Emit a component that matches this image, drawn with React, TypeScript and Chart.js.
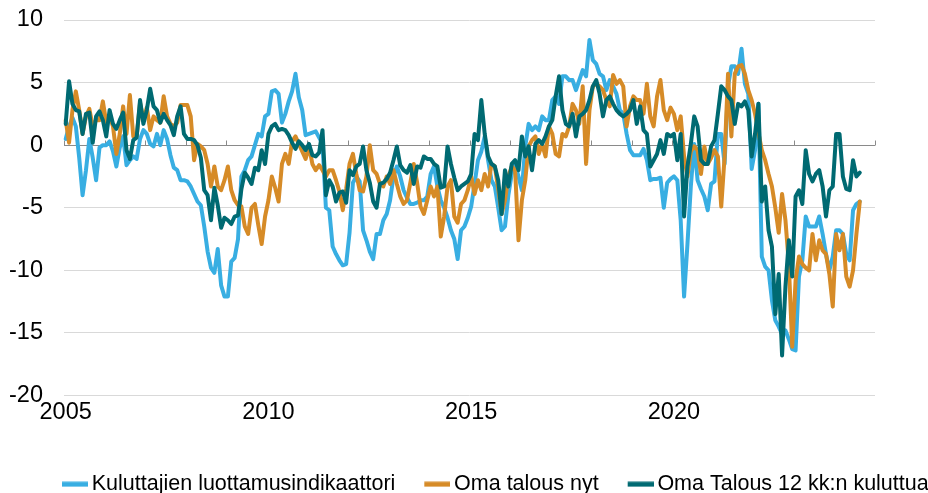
import React, { useEffect, useRef } from 'react';
import { Chart, registerables } from 'chart.js';

Chart.register(...registerables);

// ---- Data (monthly, Jan 2005 onwards) ----
const START_YEAR = 2005;
const END_YEAR = 2024;
const MONTHS: string[] = [];
for (let y = START_YEAR; y <= END_YEAR; y++) {
  for (let m = 1; m <= 12; m++) MONTHS.push(`${y}-${String(m).padStart(2, '0')}`);
}
const YEAR_LABELS = ['2005', '2010', '2015', '2020'];

const SERIES_NAMES = [
  'Kuluttajien luottamusindikaattori',
  'Oma talous nyt',
  'Oma Talous 12 kk:n kuluttua',
];

const luottamus = [
  0.5, 1.5, 2.2, 1.5, -1.0, -4.0, -2.0, 0.5, -1.0, -2.8, -0.2, 0.0,
  0.0, 0.3, -0.5, -1.7, -0.2, 0.7, -1.6, -1.2, -0.9, -1.1, 0.5, 1.2,
  0.9, 0.1, -0.1, 0.9, 0.0, 1.2, 0.5, -0.8, -1.8, -2.0, -2.8, -2.8,
  -2.9, -3.3, -3.9, -4.5, -4.8, -6.5, -8.5, -9.8, -10.2, -8.3, -11.2, -12.1,
  -12.1, -9.3, -9.0, -7.5, -2.5, -2.0, -1.2, -0.9, 0.0, 0.9, 0.7, 2.3,
  2.5, 4.3, 4.4, 4.1, 1.8, 2.5, 3.5, 4.3, 5.7, 3.8, 2.8, 0.8,
  0.9, 1.0, 1.1, 0.6, 0.1, -5.0, -5.2, -8.1, -8.7, -9.2, -9.6, -9.5,
  -7.0, -3.0, -2.5, -2.9, -6.8, -7.6, -8.5, -9.1, -7.1, -7.1, -6.0, -5.5,
  -4.4, -2.5, -1.7, -2.5, -3.6, -4.2, -4.7, -4.7, -4.6, -4.4, -4.4, -4.1,
  -2.3, -1.7, -3.3, -4.4, -5.0, -5.8, -6.8, -7.5, -9.1, -6.8, -6.5, -5.8,
  -4.9, -3.1, -1.2, -0.5, 0.7, -1.2, -2.8, -3.3, -5.0, -6.8, -6.5, -4.0,
  -2.3, -1.5, -2.5, -3.6, -0.1, 1.7, 1.2, 1.5, 1.2, 2.3, 2.0, 2.0,
  3.6, 3.9, 3.3, 5.5, 5.5, 5.2, 5.2, 4.4, 5.2, 6.0, 5.5, 8.4,
  6.8, 6.5, 5.7, 5.5, 4.4, 5.2, 4.7, 4.1, 2.8, 2.5, 0.9, -0.4,
  -0.8, -0.8, -0.8, -0.3, -1.2, -2.8, -2.7, -2.7, -2.6, -5.0, -3.0, -2.7,
  -2.5, -2.8, -6.0, -12.1, -7.9, -3.3, 0.1, -2.8, -3.5, -4.1, -5.2, -3.1,
  -2.9, 0.9, 0.9, -1.5, 4.7, 6.3, 6.3, 5.7, 7.7, 4.9, 4.1, -1.9,
  -0.4, 3.3, -8.9, -9.7, -10.0, -12.4, -14.0, -14.5, -15.1, -14.8, -15.5, -16.3,
  -16.4, -10.5, -9.2, -5.7, -6.5, -6.5, -6.5, -5.7, -7.1, -8.7, -10.0, -8.9,
  -6.8, -6.8, -7.1, -8.7, -9.2, -5.2, -4.7, -4.5,
];

const omaNyt = [
  2.0, 0.2, 2.8, 4.3, 2.8, 0.9, 2.3, 2.9, 1.5, 2.0, 2.0, 3.5,
  1.8, 2.3, 1.5, -0.7, 0.9, 3.1, 0.9, 4.0, 0.7, 0.7, 3.4, 2.0,
  3.0, 1.2, 2.3, 2.0, 1.8, 3.9, 2.3, 1.7, 1.5, 1.8, 3.2, 3.2,
  3.2, 2.3, -1.2, 0.1, -0.1, -0.4, -1.5, -3.3, -1.7, -3.3, -3.6, -2.8,
  -1.7, -3.6, -4.4, -4.8, -4.9, -6.5, -7.1, -5.0, -4.7, -6.4, -7.9, -5.7,
  -4.4, -2.5, -3.4, -4.5, -1.5, -0.7, -1.5, 0.3, 0.7, 0.1, -0.5, -1.1,
  -0.1, -1.5, -2.0, -1.6, -2.0, -2.5, -2.0, -2.0, -2.8, -3.7, -5.2, -3.5,
  -1.5, -0.7, -2.3, -3.6, -3.7, -2.5, 0.0, -2.0, -2.3, -3.1, -3.3, -2.5,
  -3.1, -2.0, -3.1, -4.1, -4.7, -4.4, -3.0, -1.5, -3.0, -4.9, -5.5, -4.4,
  -3.3, -4.1, -3.3, -7.3, -5.7, -3.3, -2.8, -5.7, -6.2, -4.7, -4.4, -3.6,
  -2.5, -3.9, -2.8, -3.6, -2.3, -3.3, -1.5, -1.7, -3.5, -5.5, -4.4, -2.5,
  -1.7, -2.0, -7.6, -4.4, -2.8, -0.1, 0.4, 0.7, -0.7, 0.1, -0.9, 1.5,
  0.9, -0.7, -0.9, 0.9, 0.7, 1.5, 3.3, 2.8, 1.7, 4.7, -1.5, 2.8,
  4.7, 4.9, 4.7, 4.4, 3.6, 3.1, 5.6, 4.9, 5.2, 4.7, 1.5, 3.1,
  3.9, 3.6, 3.6, 2.5, 4.9, 2.3, 1.5, 3.9, 5.2, 2.8, 2.0, 3.0,
  2.5, 1.2, 2.3, -0.9, -2.5, -0.5, -0.1, -0.4, -2.3, -0.1, -1.5, -1.0,
  -0.4, -0.9, -4.9, -0.9, 5.7, 0.7, 5.7, 6.3, 6.4, 5.7, 4.4, 3.6,
  2.5, 1.0, -0.4, -1.2, -2.3, -3.3, -5.0, -7.0, -3.9, -6.0, -9.5, -16.1,
  -10.8, -8.9, -9.5, -9.8, -10.0, -7.1, -9.2, -7.6, -8.4, -8.7, -10.3, -12.9,
  -7.1, -8.4, -7.1, -10.5, -11.3, -10.0, -7.1, -4.5,
];

const oma12kk = [
  1.7, 5.1, 3.3, 2.8, 2.7, 0.9, 2.5, 2.6, 0.2, 2.3, 2.7, 2.0,
  0.7, 2.8, 1.7, 1.3, 2.0, 2.6, -0.4, -1.1, 0.4, 0.6, 3.6, 1.7,
  2.8, 4.5, 3.1, 2.8, 1.8, 2.5, 2.0, 1.6, 0.8, 2.3, 3.1, 0.9,
  0.5, 0.5, 0.4, 0.0, -1.0, -3.6, -4.0, -6.0, -3.4, -4.8, -6.6, -5.8,
  -6.0, -6.3, -5.7, -5.6, -3.5, -2.2, -2.6, -3.1, -1.8, -2.0, -0.4, -1.5,
  0.9, 1.5, 1.7, 1.2, 1.3, 1.2, 0.8, 0.2, -0.3, 0.3, 0.0, -0.4,
  0.1, -0.8, -0.9, -0.6, 1.2, -4.0, -2.8, -3.3, -4.5, -3.8, -3.7, -4.6,
  -2.0, -2.4, -1.7, -1.5, -0.1, -2.0, -3.0, -4.5, -5.0, -3.1, -3.0, -2.7,
  -2.2, -1.2, -0.1, -1.6, -2.0, -2.2, -1.6, -3.1, -1.7, -1.8, -0.9, -1.1,
  -1.1, -1.5, -1.7, -3.4, -3.3, -0.1, -1.5, -2.6, -3.6, -3.3, -3.1, -2.9,
  -2.3, 0.9, 0.4, 3.6, 0.9, -0.9, -1.5, -1.7, -2.8, -5.5, -2.0, -3.3,
  -1.5, -1.2, -2.0, 0.7, -0.9, -0.1, -2.0, 0.1, 0.4, 0.1, 0.7, 1.5,
  2.0, 3.9, 5.5, 2.8, 1.7, 1.5, 2.5, 0.7, 2.3, 2.5, 2.8, 3.6,
  4.7, 5.2, 4.1, 2.3, 3.6, 3.9, 3.3, 2.8, 2.5, 2.3, 2.5, 2.8,
  3.6, 1.7, 3.1, 1.2, 0.9, -1.7, -1.2, -0.7, 0.4, -0.7, 0.9, 0.7,
  0.9, -1.2, 0.9, -5.7, -1.7, 0.1, 2.3, 1.5, -1.2, -1.5, -1.5, -0.1,
  0.4, 2.5, 4.7, 4.4, 3.9, 3.6, 1.7, 3.3, 3.1, 3.5, 2.8, -0.9,
  0.9, 3.3, -4.5, -3.3, -6.8, -8.1, -13.5, -10.3, -16.8, -11.3, -7.6, -10.5,
  -4.1, -3.6, -4.7, -0.4, -2.3, -2.9, -2.3, -2.0, -3.3, -5.7, -3.6, -3.3,
  0.9, 0.9, -2.5, -3.5, -3.6, -1.2, -2.5, -2.2,
];

const COLORS = ['#38AEE2', '#D68B27', '#006A72'];
const FONT_FAMILY = '"Liberation Sans", Arial, Helvetica, sans-serif';
const TICK_FONT_SIZE = 23.5;

export default function App() {
  const ref = useRef<HTMLCanvasElement>(null);

  useEffect(() => {
    const canvas = ref.current;
    if (!canvas) return;

    const markers = COLORS.map((c) => {
      const m = document.createElement('canvas');
      m.width = 40;
      m.height = 6;
      const g = m.getContext('2d')!;
      g.strokeStyle = c;
      g.lineWidth = 5;
      g.beginPath();
      g.moveTo(14, 3);
      g.lineTo(40, 3);
      g.stroke();
      return m;
    });

    const yearTicks = {
      id: 'yearTicks',
      afterLayout(chart: any) {
        // shift the legend row to the right, as in the reference
        if (chart.legend) chart.legend.left = 33;
      },
      beforeDatasetsDraw(chart: any) {
        const { ctx, chartArea, scales } = chart;
        const y0 = Math.round(scales.y.getPixelForValue(0)) + 0.5;
        const nYears = MONTHS.length / 12;
        ctx.save();
        ctx.strokeStyle = '#8a8a8a';
        ctx.lineWidth = 1;
        for (let k = 0; k <= nYears; k++) {
          const x = Math.round(chartArea.left + ((chartArea.right - chartArea.left) * k) / nYears) + 0.5;
          ctx.beginPath();
          ctx.moveTo(x, y0);
          ctx.lineTo(x, y0 - 5);
          ctx.stroke();
        }
        ctx.restore();
      },
    };

    const seriesData = [luottamus, omaNyt, oma12kk];

    const chart = new Chart(canvas, {
      type: 'line',
      data: {
        labels: MONTHS,
        datasets: seriesData.map((d, i) => ({
          label: SERIES_NAMES[i],
          data: d,
          borderColor: COLORS[i],
          backgroundColor: COLORS[i],
          borderWidth: 4,
          pointRadius: 0,
          pointHoverRadius: 0,
          tension: 0,
          fill: false,
          borderJoinStyle: 'round',
          borderCapStyle: 'round',
          order: 3 - i,
          yAxisID: 'y',
        })),
      },
      options: {
        responsive: false,
        animation: false,
        devicePixelRatio: 1,
        events: [],
        layout: { padding: { left: 0, top: 20, right: 0, bottom: 0 } },
        scales: {
          x: {
            type: 'category',
            offset: true,
            grid: { display: false, drawTicks: false },
            border: { display: false },
            ticks: {
              autoSkip: false,
              maxRotation: 0,
              minRotation: 0,
              padding: 3,
              color: '#000',
              font: { family: FONT_FAMILY, size: TICK_FONT_SIZE },
              callback: (_v: any, idx: number) => {
                const lab = MONTHS[idx];
                const yr = lab.slice(0, 4);
                return lab.endsWith('-01') && YEAR_LABELS.includes(yr) ? yr : '';
              },
            },
            afterFit: (s: any) => {
              s.height = 56;
            },
          },
          y: {
            min: -20,
            max: 10,
            ticks: {
              stepSize: 5,
              padding: 21,
              color: '#000',
              font: { family: FONT_FAMILY, size: TICK_FONT_SIZE },
            },
            grid: {
              drawTicks: false,
              lineWidth: 1,
              color: (ctx: any) => (ctx.tick && ctx.tick.value === 0 ? '#8a8a8a' : '#d9d9d9'),
            },
            border: { display: false },
            afterFit: (s: any) => {
              s.width = 64;
              s.paddingTop = 0;
              s.paddingBottom = 0;
            },
          },
          yR: {
            position: 'right',
            min: -20,
            max: 10,
            grid: { display: false, drawTicks: false },
            border: { display: false },
            ticks: { display: false },
            afterFit: (s: any) => {
              s.width = 125;
              s.paddingTop = 0;
              s.paddingBottom = 0;
            },
          },
        },
        plugins: {
          tooltip: { enabled: false },
          legend: {
            position: 'bottom',
            align: 'start',
            labels: {
              usePointStyle: true,
              pointStyleWidth: 26,
              padding: 22,
              color: '#000',
              font: { family: FONT_FAMILY, size: 21.5 },
              sort: (a: any, b: any) => a.datasetIndex - b.datasetIndex,
              generateLabels: (ch: any) => {
                const items = (Chart.defaults.plugins.legend.labels as any).generateLabels(ch);
                items.forEach((it: any) => {
                  it.pointStyle = markers[it.datasetIndex];
                });
                return items;
              },
            },
          },
        },
      } as any,
      plugins: [yearTicks],
    });

    return () => chart.destroy();
  }, []);

  return (
    <div
      style={{
        position: 'fixed',
        left: 0,
        top: 0,
        width: 928,
        height: 493,
        overflow: 'hidden',
        background: '#fff',
      }}
    >
      <canvas ref={ref} width={1000} height={505} style={{ display: 'block', width: 1000, height: 505 }} />
    </div>
  );
}
